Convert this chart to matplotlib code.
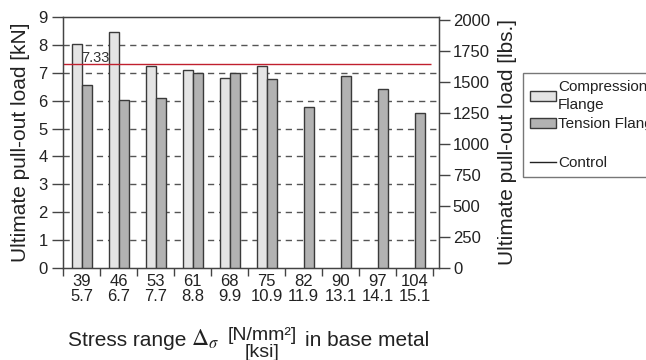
import numpy as np
import matplotlib
matplotlib.use("Agg")
import matplotlib.pyplot as plt
from matplotlib.patches import Patch
from matplotlib.lines import Line2D

plt.rcParams['font.family'] = ['Liberation Sans', 'DejaVu Sans']
plt.rcParams['mathtext.fontset'] = 'stix'

# Daten
stress_nmm2 = ['39', '46', '53', '61', '68', '75', '82', '90', '97', '104']
stress_ksi = ['5.7', '6.7', '7.7', '8.8', '9.9', '10.9', '11.9', '13.1', '14.1', '15.1']
compression = [8.02, 8.45, 7.26, 7.11, 6.82, 7.24, np.nan, np.nan, np.nan, np.nan]
tension = [6.55, 6.03, 6.08, 6.98, 6.98, 6.76, 5.78, 6.87, 6.42, 5.54]
control = 7.33
kn_to_lbs = 224.809

col_comp = '#e4e4e4'
col_tens = '#b2b2b2'
col_edge = '#3a3a3a'
col_axis = '#444444'

fig = plt.figure(figsize=(6.46, 3.60), dpi=100)
W, H = 646, 360
ax = fig.add_axes([63 / W, 1 - 268 / H, (439 - 63) / W, (268 - 17) / H])

x = np.arange(len(stress_nmm2))
bw = 0.27
ax.bar(x - 0.5 * bw + 0.02, compression, bw, color=col_comp, edgecolor=col_edge, linewidth=1.0, zorder=3)
ax.bar(x + 0.5 * bw + 0.02, tension, bw, color=col_tens, edgecolor=col_edge, linewidth=1.0, zorder=3)

# Kontrollwert
ax.hlines(control, -0.5, 9.45, color='#c0202e', linewidth=1.0, zorder=4)
ax.text(-0.02, control + 0.06, f'{control:.2f}', fontsize=10.5, color='#333333',
        va='baseline', ha='left', zorder=5)

# Raster
for yv in range(1, 9):
    ax.axhline(yv, color='#555555', linewidth=1.0, linestyle=(0, (4.5, 3.5)), zorder=1)

ax.set_xlim(-0.5, 9.66)
ax.set_ylim(0, 9)
ax.set_yticks(range(0, 10))
ax.set_xticks(np.arange(-0.5, 10, 1.0))
ax.set_xticklabels([])
ax.set_xticks(x, minor=True)
ax.set_xticklabels([f'{a}\n{b}' for a, b in zip(stress_nmm2, stress_ksi)], minor=True,
                   fontsize=12, linespacing=1.0)
ax.tick_params(axis='x', which='major', direction='out', length=6, color=col_axis, width=1)
ax.tick_params(axis='x', which='minor', length=0, pad=4, labelcolor='#222222')
ax.tick_params(axis='y', direction='out', length=8, width=1, color=col_axis,
               labelsize=12, labelcolor='#222222', pad=3)
for s in ax.spines.values():
    s.set_color(col_axis)
    s.set_linewidth(1.0)
ax.set_ylabel('Ultimate pull-out load [kN]', fontsize=15, color='#222222', labelpad=6)

ax2 = ax.twinx()
ax2.set_ylim(0, 9 * kn_to_lbs)
ax2.set_yticks(range(0, 2001, 250))
ax2.tick_params(axis='y', direction='out', length=8, width=1, color=col_axis,
                labelsize=12, labelcolor='#222222', pad=2)
for s in ax2.spines.values():
    s.set_color(col_axis)
ax2.set_ylabel('Ultimate pull-out load [lbs.]', fontsize=15, color='#222222', labelpad=6)

# x-Achsentitel aus Teilen
def px(xp, yp):
    return xp / W, 1 - yp / H

fig.text(*px(68, 346), 'Stress range', fontsize=15, color='#222222', va='baseline', ha='left')
fig.text(*px(191, 346), r'$\mathrm{\Delta}_{\sigma}$', fontsize=17, color='#222222', va='baseline', ha='left')
fig.text(*px(262, 340), '[N/mm²]', fontsize=14, color='#222222', va='baseline', ha='center')
fig.text(*px(262, 357), '[ksi]', fontsize=14, color='#222222', va='baseline', ha='center')
fig.text(*px(305, 346), 'in base metal', fontsize=15, color='#222222', va='baseline', ha='left')

handles = [
    Patch(facecolor=col_comp, edgecolor=col_edge, linewidth=1.0),
    Patch(facecolor=col_tens, edgecolor=col_edge, linewidth=1.0),
    Line2D([], [], color='none'),
    Line2D([], [], color='#222222', linewidth=1.0),
]
labels = ['Compression\nFlange', 'Tension Flange', '', 'Control']
leg = fig.legend(handles, labels, loc='upper left', bbox_to_anchor=(523 / W, 1 - 73 / H),
                 fontsize=11, frameon=True, fancybox=False, edgecolor='#555555',
                 handlelength=1.7, handleheight=0.6, handletextpad=0.15,
                 borderpad=0.45, borderaxespad=0, labelspacing=0.35)
leg.get_frame().set_linewidth(1.0)
for t in leg.get_texts():
    t.set_color('#222222')
    t.set_linespacing(1.35)

fig.savefig('out.png', dpi=100)
